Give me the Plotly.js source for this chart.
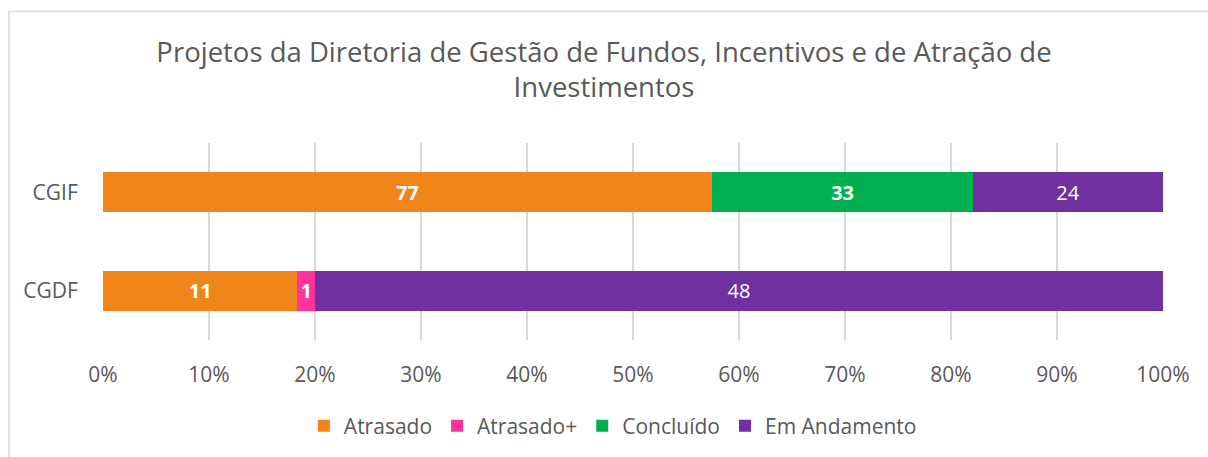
<!DOCTYPE html>
<html><head><meta charset="utf-8">
<script src="https://cdn.plot.ly/plotly-3.0.1.min.js"></script>
<style>html,body{margin:0;padding:0;background:#fff;}#chart{width:1208px;height:457px;}</style>
</head><body><div id="chart"></div>
<script>
const categories = ['CGDF', 'CGIF'];
const seriesNames = ['Atrasado', 'Atrasado+', 'Concluído', 'Em Andamento'];
const atrasado = [11, 77];
const atrasadoPlus = [1, 0];
const concluido = [0, 33];
const emAndamento = [48, 24];
const colors = ['#F0861A', '#FF3399', '#00B050', '#7030A0'];
const boldLabels = [true, true, true, false];
const values = [atrasado, atrasadoPlus, concluido, emAndamento];

const FONT = 'Open Sans, Liberation Sans, sans-serif';
const traces = values.map((vals, i) => ({
  type: 'bar', orientation: 'h', name: seriesNames[i],
  y: categories, x: vals,
  marker: {color: colors[i], line: {width: 0}},
  width: 0.404,
  text: vals.map(v => v === 0 ? '' : (boldLabels[i] ? '<b>' + v + '</b>' : String(v))),
  textposition: 'inside', insidetextanchor: 'middle',
  textfont: {color: '#FFFFFF', size: 20, family: FONT},
  constraintext: 'none',
  hoverinfo: 'x+y+name'
}));

const layout = {
  width: 1208, height: 457,
  barmode: 'stack', barnorm: 'percent',
  margin: {l: 103, r: 45, t: 143, b: 116},
  paper_bgcolor: '#FFFFFF', plot_bgcolor: '#FFFFFF',
  font: {family: FONT, color: '#595959', size: 20},
  title: {text: 'Projetos da Diretoria de Gestão de Fundos, Incentivos e de Atração de<br>Investimentos',
          font: {size: 27.5, color: '#595959', family: FONT},
          x: 0.5, xanchor: 'center', y: 0.865, yanchor: 'middle', yref: 'container'},
  xaxis: {range: [0, 100], dtick: 10, ticksuffix: '%', showgrid: true, gridcolor: '#D9D9D9', gridwidth: 1.5,
          zeroline: false, showline: false, ticks: 'outside', ticklen: 16, tickcolor: 'rgba(0,0,0,0)',
          tickfont: {size: 21, color: '#595959'}, fixedrange: true},
  yaxis: {type: 'category', range: [-0.5, 1.5], showgrid: false, zeroline: false, showline: false,
          ticks: 'outside', ticklen: 20, tickcolor: 'rgba(0,0,0,0)',
          tickfont: {size: 21, color: '#595959'}, fixedrange: true},
  legend: {orientation: 'h', x: 0.481, xanchor: 'center', y: -0.43, yanchor: 'middle',
           font: {size: 21, color: '#595959'}, traceorder: 'normal', itemwidth: 30},
  showlegend: true,
  shapes: [{type: 'rect', xref: 'paper', yref: 'paper', x0: -0.0887, x1: 1.2, y0: -1, y1: 1.667,
            line: {color: '#D9D9D9', width: 1.5}, fillcolor: 'rgba(0,0,0,0)', layer: 'below'}]
};
Plotly.newPlot('chart', traces, layout, {displayModeBar: false, staticPlot: true});
</script></body></html>
